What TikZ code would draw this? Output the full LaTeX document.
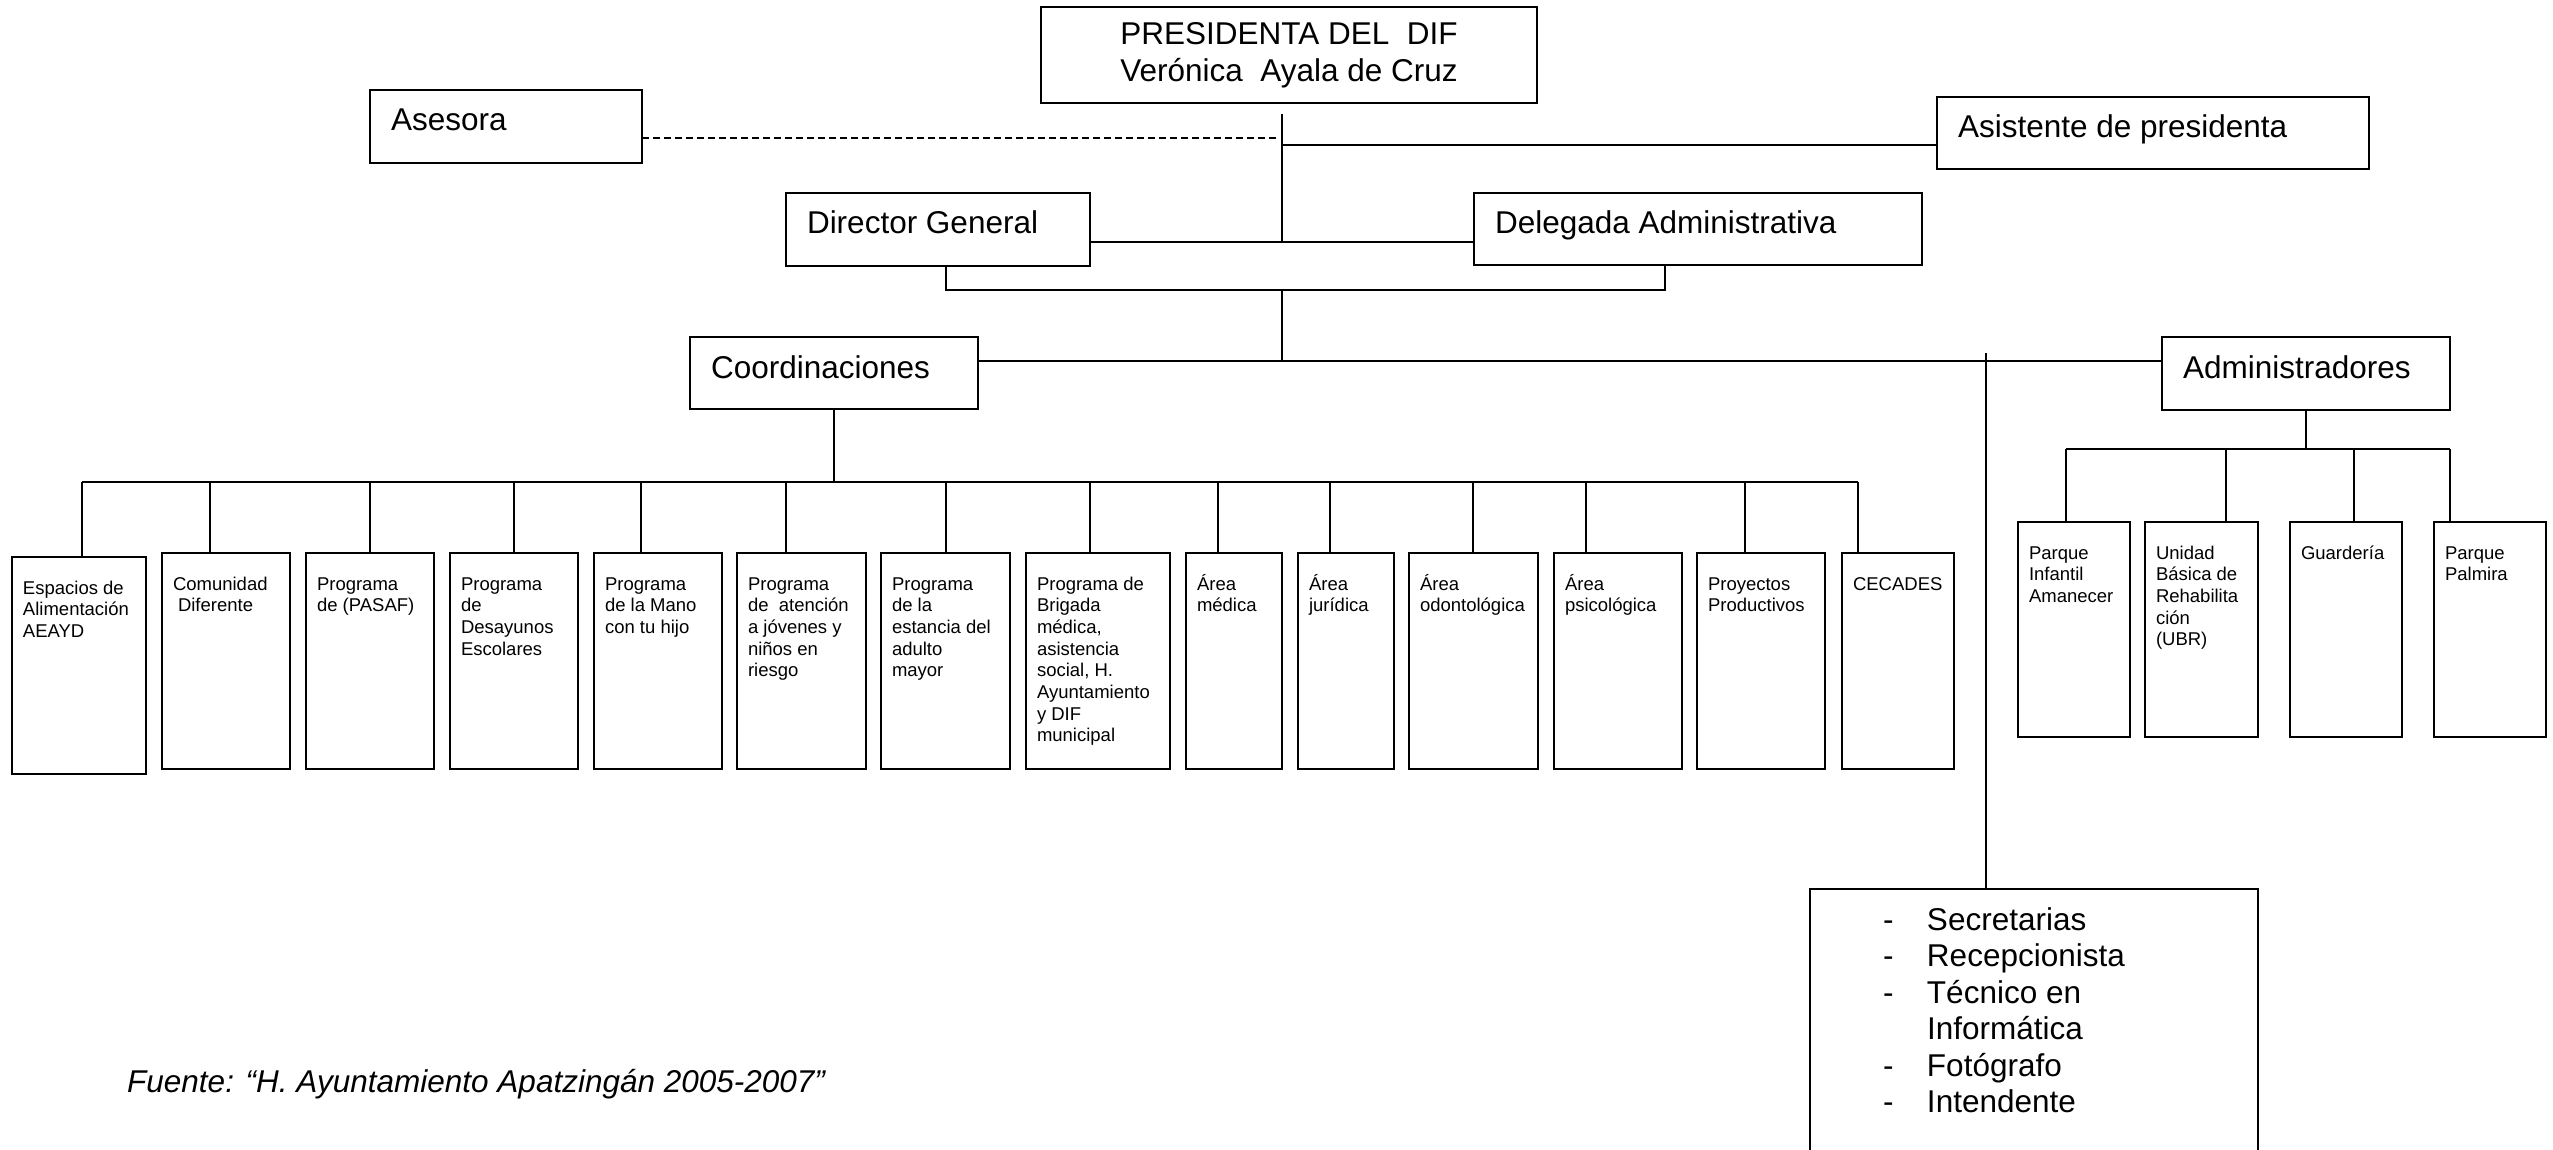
\documentclass[tikz,border=0pt]{standalone}
\usepackage{fontspec}
\setmainfont{Liberation Sans}
\usetikzlibrary{positioning}

\newcommand{\bigtext}[3]{\parbox[t][#2][t]{#1}{\raggedright\rule{0pt}{41pt}#3}}
\newcommand{\smalltext}[3]{\parbox[t][#2][t]{#1}{\raggedright\rule{0pt}{37pt}#3}}

\tikzset{
  bigbox/.style={draw, line width=2.2pt, outer sep=0pt, anchor=north west, inner xsep=21pt, inner ysep=0pt, font=\fontsize{31.5}{36.5}\selectfont},
  smallbox/.style={draw, line width=2.2pt, outer sep=0pt, anchor=north west, inner xsep=11pt, inner ysep=0pt, font=\fontsize{18.5}{21.7}\selectfont},
  link/.style={line width=1.7pt}
}

\begin{document}
\begin{tikzpicture}[x=1pt, y=-1pt]
        \path[use as bounding box, fill=white] (0,0) rectangle (2553,1150);

        % Presidenta
        \node [draw, line width=2.2pt, outer sep=0pt, minimum width=496pt, minimum height=96pt, align=center, font=\fontsize{31.5}{37}\selectfont] (pres) at (1289,55) {PRESIDENTA DEL\ \ DIF\\Verónica\ \ Ayala de Cruz};

        % Asesora and Asistente
        \node [bigbox] (asesora) at (370,90) {\bigtext{230pt}{73pt}{Asesora}};
        \node [bigbox] (asistente) at (1937,97) {\bigtext{390pt}{72pt}{Asistente de presidenta}};

        % Director General and Delegada
        \node [bigbox] (director) at (786,193) {\bigtext{262pt}{73pt}{Director General}};
        \node [bigbox] (delegada) at (1474,193) {\bigtext{406pt}{72pt}{Delegada Administrativa}};

        % Coordinaciones and Administradores
        \node [bigbox] (coord) at (690,337) {\bigtext{246pt}{72pt}{Coordinaciones}};
        \node [bigbox] (admin) at (2162,337) {\bigtext{246pt}{73pt}{Administradores}};

        % Staff
        \node [bigbox, inner xsep=73pt] (staff) at (1810,889) {\bigtext{302pt}{266pt}{%
          \makebox[44pt][l]{-}Secretarias\\
          \makebox[44pt][l]{-}Recepcionista\\
          \makebox[44pt][l]{-}Técnico en\\
          \hspace*{44pt}Informática\\
          \makebox[44pt][l]{-}Fotógrafo\\
          \makebox[44pt][l]{-}Intendente}};

        % Programs under Coordinaciones
        \node [smallbox] (esp) at (12,557) {\smalltext{112pt}{217pt}{Espacios de\\Alimentación\\AEAYD}};
        \node [smallbox] (com) at (162,553) {\smalltext{106pt}{216pt}{Comunidad\\\hspace*{5pt}Diferente}};
        \node [smallbox] (pasaf) at (306,553) {\smalltext{106pt}{216pt}{Programa\\de (PASAF)}};
        \node [smallbox] (desay) at (450,553) {\smalltext{106pt}{216pt}{Programa\\de\\Desayunos\\Escolares}};
        \node [smallbox] (mano) at (594,553) {\smalltext{106pt}{216pt}{Programa\\de la Mano\\con tu hijo}};
        \node [smallbox] (aten) at (737,553) {\smalltext{107pt}{216pt}{Programa\\de\ \ atención\\a jóvenes y\\niños en\\riesgo}};
        \node [smallbox] (estan) at (881,553) {\smalltext{107pt}{216pt}{Programa\\de la\\estancia del\\adulto\\mayor}};
        \node [smallbox] (brig) at (1026,553) {\smalltext{122pt}{216pt}{Programa de\\Brigada\\médica,\\asistencia\\social, H.\\Ayuntamiento\\y DIF\\municipal}};
        \node [smallbox] (med) at (1186,553) {\smalltext{74pt}{216pt}{Área\\médica}};
        \node [smallbox] (jur) at (1298,553) {\smalltext{74pt}{216pt}{Área\\jurídica}};
        \node [smallbox] (odon) at (1409,553) {\smalltext{107pt}{216pt}{Área\\odontológica}};
        \node [smallbox] (psic) at (1554,553) {\smalltext{106pt}{216pt}{Área\\psicológica}};
        \node [smallbox] (proy) at (1697,553) {\smalltext{106pt}{216pt}{Proyectos\\Productivos}};
        \node [smallbox] (ceca) at (1842,553) {\smalltext{90pt}{216pt}{CECADES}};

        % Units under Administradores
        \node [smallbox] (pinf) at (2018,522) {\smalltext{90pt}{215pt}{Parque\\Infantil\\Amanecer}};
        \node [smallbox] (ubr) at (2145,522) {\smalltext{91pt}{215pt}{Unidad\\Básica de\\Rehabilita\\ción\\(UBR)}};
        \node [smallbox] (guar) at (2290,522) {\smalltext{90pt}{215pt}{Guardería}};
        \node [smallbox] (palm) at (2434,522) {\smalltext{90pt}{215pt}{Parque\\Palmira}};

        % Source
        \node [anchor=base west, inner sep=0pt, font=\fontsize{31.5}{36}\selectfont\itshape] (fuente) at (127,1092) {Fuente: “H. Ayuntamiento Apatzingán 2005-2007”};

        % Junctions
        \coordinate (ptop) at (1282,114);
        \coordinate (pase) at (1279,138);
        \coordinate (pasi) at (1282,145);
        \coordinate (pdg) at (1282,242);
        \coordinate (brl) at (946,290);
        \coordinate (pbr) at (1282,290);
        \coordinate (brr) at (1665,290);
        \coordinate (pco) at (1282,361);
        \coordinate (pst) at (1986,353);
        \coordinate (cbl) at (82,482);
        \coordinate (cbr) at (1858,482);
        \coordinate (abl) at (2066,449);
        \coordinate (abr) at (2450,449);

        % Top level lines
        \draw [link] (ptop) -- (pdg);
        \draw [link, dash pattern=on 7pt off 4pt] (asesora.east |- pase) -- (pase);
        \draw [link] (pasi) -- (asistente.west |- pasi);
        \draw [link] (director.east |- pdg) -- (delegada.west |- pdg);
        \draw [link] (director.south -| brl) -- (brl) -- (brr) -- (delegada.south -| brr);
        \draw [link] (pbr) -- (pco);
        \draw [link] (coord.east |- pco) -- (admin.west |- pco);
        \draw [link] (pst) -- (staff.north -| pst);

        % Coordinaciones bus
        \draw [link] (coord.south) -- (coord.south |- cbl);
        \draw [link] (cbl) -- (cbr);
        \foreach \n/\x in {esp/82, com/210, pasaf/370, desay/514, mano/641, aten/786, estan/946, brig/1090, med/1218, jur/1330, odon/1473, psic/1586, proy/1745, ceca/1858} {
          \coordinate (c) at (\x,482);
          \draw [link] (c) -- (c |- \n.north);
        }

        % Administradores bus
        \draw [link] (admin.south) -- (admin.south |- abl);
        \draw [link] (abl) -- (abr);
        \foreach \n/\x in {pinf/2066, ubr/2226, guar/2354, palm/2450} {
          \coordinate (c) at (\x,449);
          \draw [link] (c) -- (c |- \n.north);
        }
\end{tikzpicture}
\end{document}
